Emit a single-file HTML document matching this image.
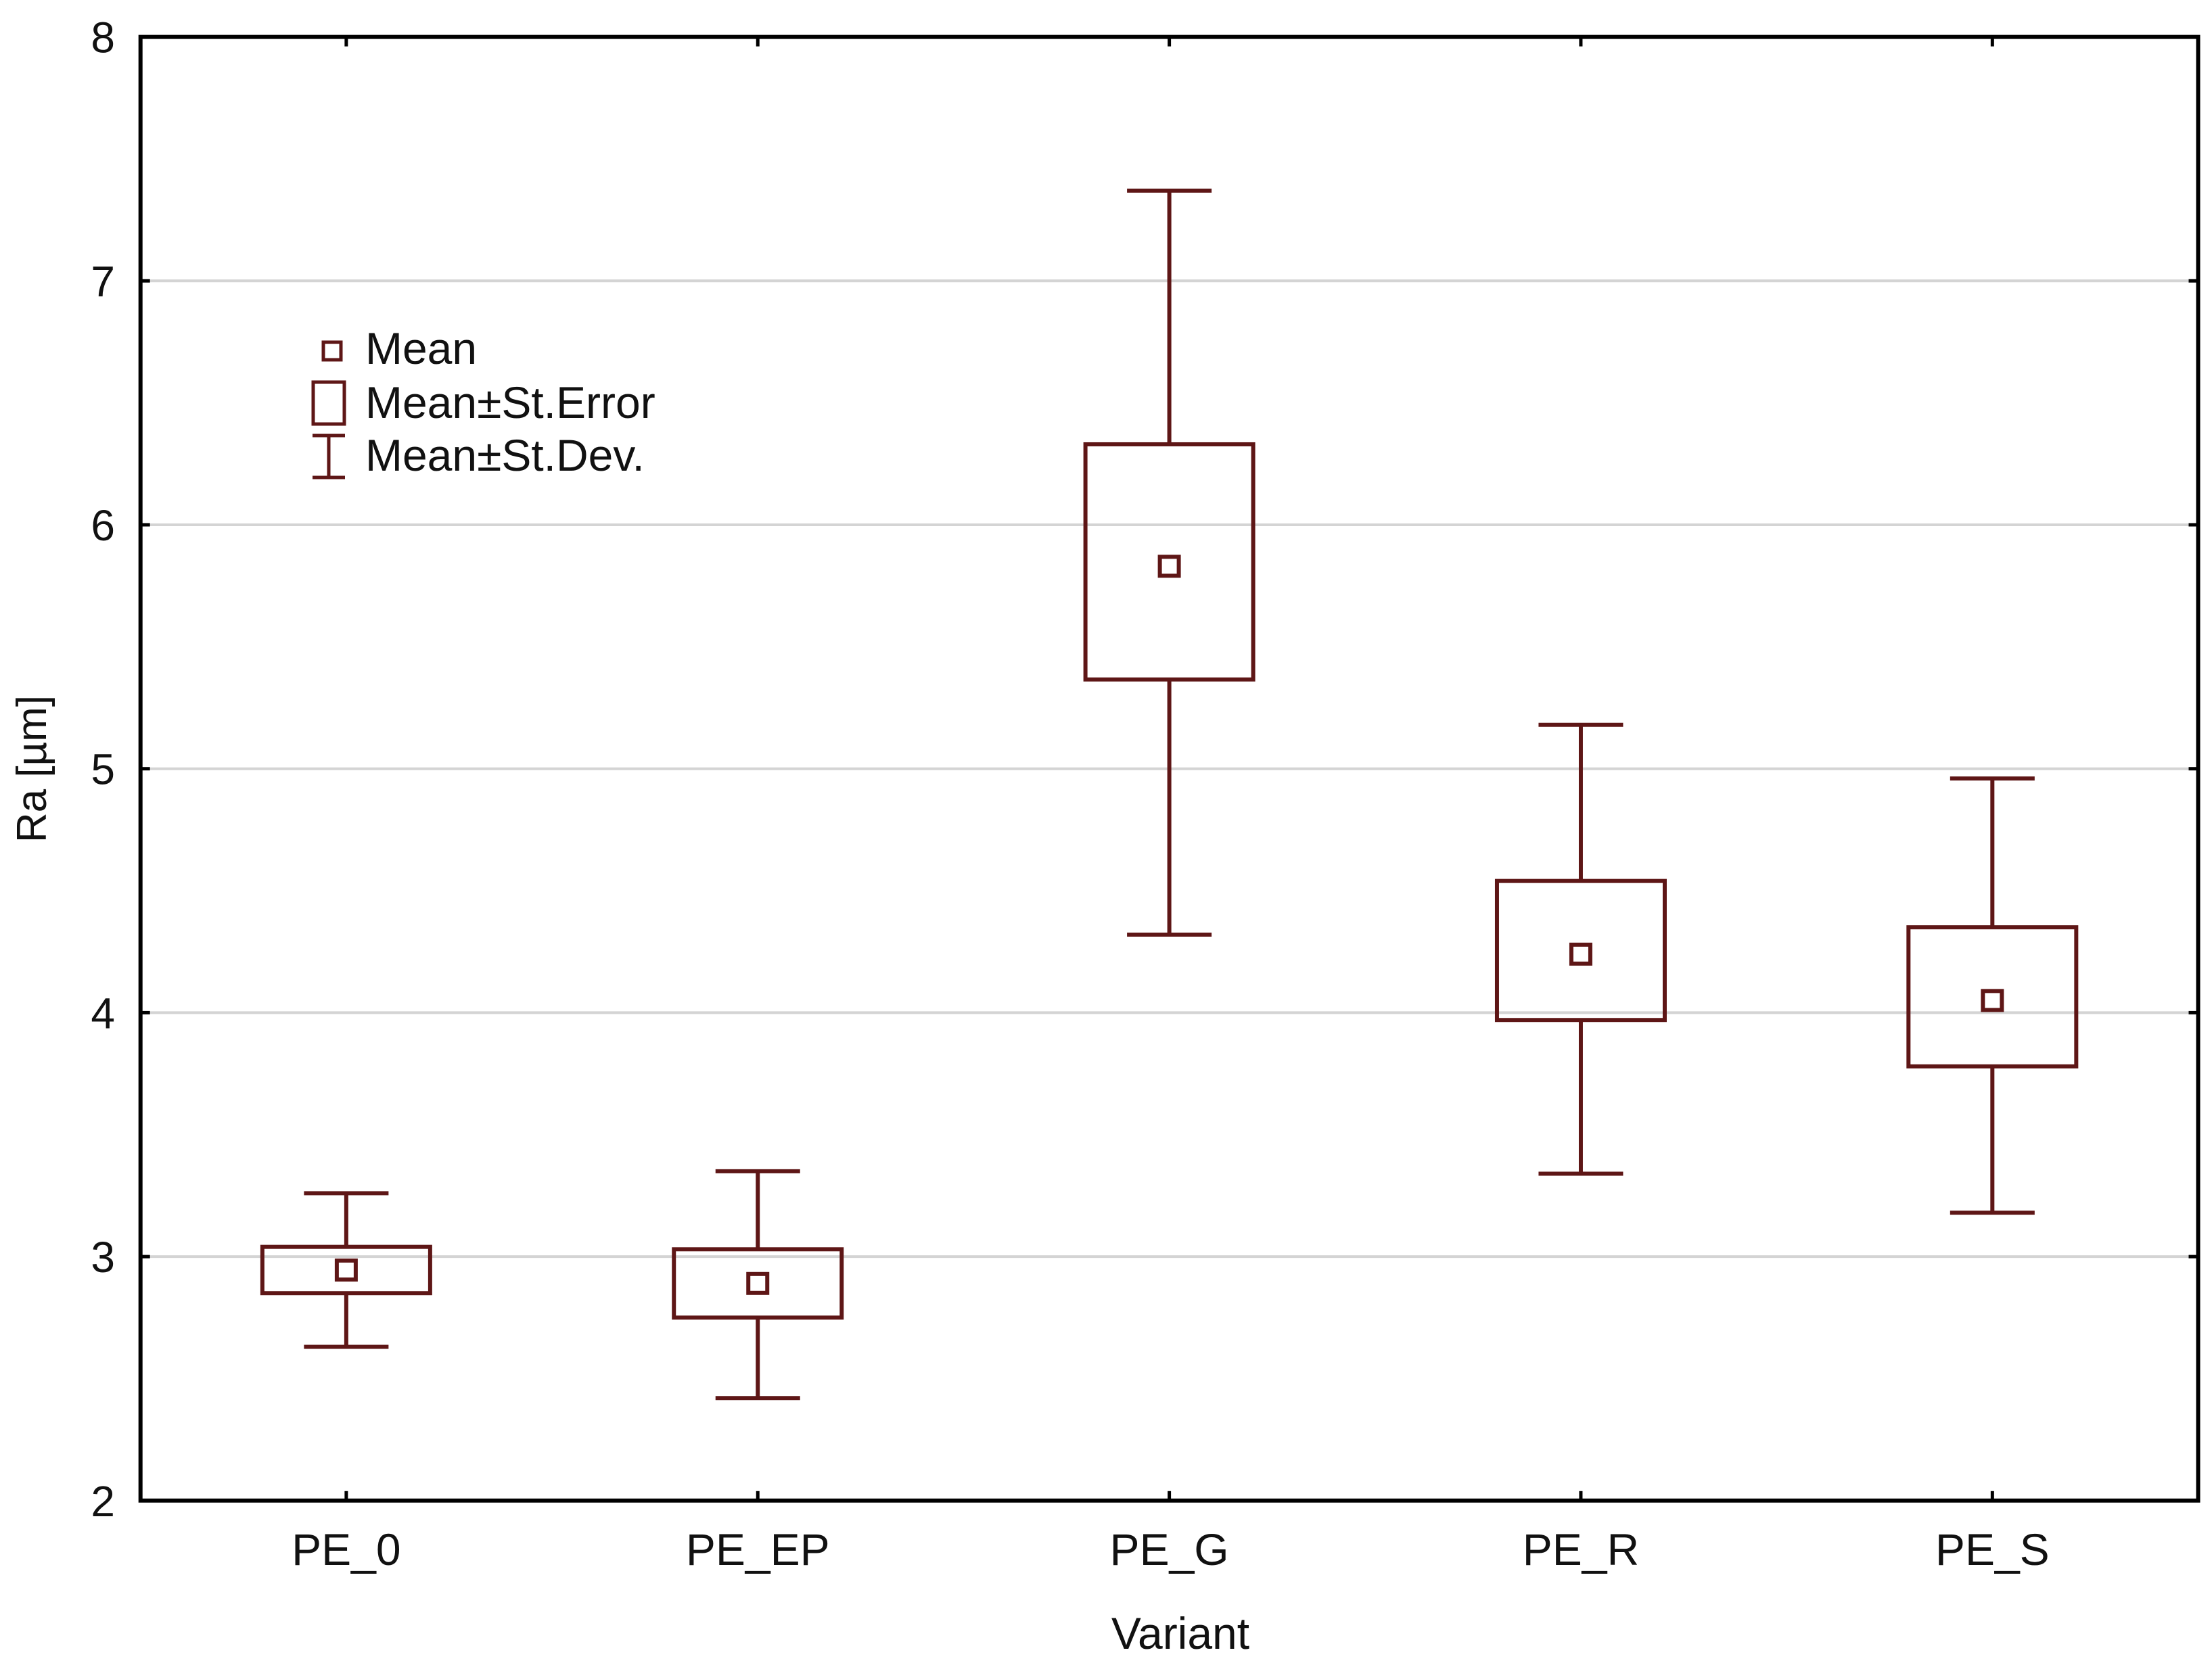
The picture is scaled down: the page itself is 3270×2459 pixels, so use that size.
<!DOCTYPE html>
<html><head><meta charset="utf-8"><style>
html,body{margin:0;padding:0;background:#fff;}
svg{display:block;font-family:"Liberation Sans",Arial,sans-serif;}
</style></head><body>
<svg id="chart" width="3270" height="2459" viewBox="0 0 3270 2459">
<g id="grid"></g><g id="marks"></g><g id="axes"></g>
</svg>
<script>
const categories = ["PE_0","PE_EP","PE_G","PE_R","PE_S"];
const means = [2.945, 2.89, 5.83, 4.24, 4.05];
const seLow = [2.85, 2.75, 5.366, 3.97, 3.78];
const seHigh = [3.04, 3.03, 6.33, 4.54, 4.35];
const sdLow = [2.63, 2.42, 4.32, 3.34, 3.18];
const sdHigh = [3.26, 3.35, 7.37, 5.18, 4.96];
const yTicks = [2,3,4,5,6,7,8];

const NS="http://www.w3.org/2000/svg";
const L=207.7,R=3249.5,T=54.6,B=2218.8,yMin=2,yMax=8;
const C="#5e1616";
const SW=6;
function y(v){return B-(v-yMin)/(yMax-yMin)*(B-T);}
function x(i){return L+(R-L)/categories.length*(i+0.5);}
function mk(tag,attrs,parent){const e=document.createElementNS(NS,tag);for(const k in attrs)e.setAttribute(k,attrs[k]);parent.appendChild(e);return e;}
const grid=document.getElementById('grid'),marks=document.getElementById('marks'),axes=document.getElementById('axes');

yTicks.forEach(t=>{
  if(t>yMin&&t<yMax){const g=mk('line',{x1:L,x2:R,y1:y(t),y2:y(t),stroke:'#d4d4d4','stroke-width':4},grid);
  
  }
  const tl=mk('line',{x1:L,x2:L+14,y1:y(t),y2:y(t),stroke:'#000','stroke-width':5},axes);
  
  
  const tr=mk('line',{x1:R-14,x2:R,y1:y(t),y2:y(t),stroke:'#000','stroke-width':5},axes);
  
  
  const lb=mk('text',{x:170,y:y(t)+23,'text-anchor':'end','font-size':64,fill:'#111'},axes);
  lb.textContent=t;
  
  
});

const bw=248,cw=125,mw=28;
categories.forEach((c,i)=>{
  const cx=x(i);
  const g=mk('g',{},marks);
  
  
  mk('line',{x1:cx,x2:cx,y1:y(sdHigh[i]),y2:y(seHigh[i]),stroke:C,'stroke-width':SW},g);
  mk('line',{x1:cx,x2:cx,y1:y(seLow[i]),y2:y(sdLow[i]),stroke:C,'stroke-width':SW},g);
  mk('line',{x1:cx-cw/2,x2:cx+cw/2,y1:y(sdHigh[i]),y2:y(sdHigh[i]),stroke:C,'stroke-width':SW},g);
  mk('line',{x1:cx-cw/2,x2:cx+cw/2,y1:y(sdLow[i]),y2:y(sdLow[i]),stroke:C,'stroke-width':SW},g);
  mk('rect',{x:cx-bw/2,y:y(seHigh[i]),width:bw,height:y(seLow[i])-y(seHigh[i]),fill:'none',stroke:C,'stroke-width':SW},g);
  const m=mk('rect',{x:cx-mw/2,y:y(means[i])-mw/2,width:mw,height:mw,fill:'#fff',stroke:C,'stroke-width':SW},g);
  
  
  const tt=mk('line',{x1:cx,x2:cx,y1:T,y2:T+14,stroke:'#000','stroke-width':5},axes);
  
  
  const tb=mk('line',{x1:cx,x2:cx,y1:B-14,y2:B,stroke:'#000','stroke-width':5},axes);
  
  
  const lb=mk('text',{x:cx,y:2314,'text-anchor':'middle','font-size':66,fill:'#111'},axes);
  lb.textContent=c;
  
  
});
const frame=mk('rect',{x:L,y:T,width:R-L,height:B-T,fill:'none',stroke:'#000','stroke-width':6},axes);


</script>
<svg style="position:absolute;left:0;top:0" width="3270" height="2459">
<g font-family="Liberation Sans, Arial, sans-serif" fill="#111">
<text x="1745" y="2438" text-anchor="middle" font-size="66">Variant</text>
<text transform="translate(68,1137) rotate(-90)" text-anchor="middle" font-size="62">Ra [µm]</text>
<g>
<rect x="478" y="506" width="26" height="26" fill="#fff" stroke="#5e1616" stroke-width="5"/>
<text x="540" y="538" font-size="66">Mean</text>
<rect x="463" y="565" width="46" height="62" fill="none" stroke="#5e1616" stroke-width="5"/>
<text x="540" y="618" font-size="66">Mean±St.Error</text>
<g stroke="#5e1616" stroke-width="5">
<line x1="462" x2="510" y1="644" y2="644"/><line x1="462" x2="510" y1="706" y2="706"/><line x1="486" x2="486" y1="644" y2="706"/></g>
<text x="540" y="696" font-size="66">Mean±St.Dev.</text>
</g></g></svg>
</body></html>
